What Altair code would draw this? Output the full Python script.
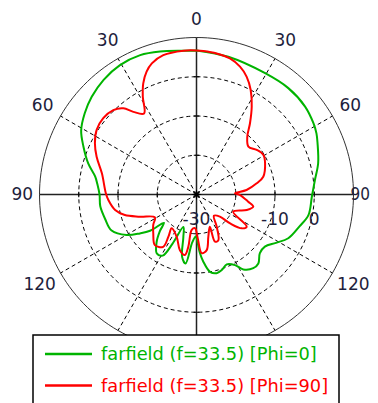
import altair as alt
import pandas as pd
import numpy as np

# ---------------- data (angle: degrees clockwise from top, value: dB) -------------
green_angle = [0, 13, 29.5, 40.8, 51, 58.6, 63, 67, 75.6, 83, 91, 100.4, 107, 115.5,
               121.3, 127.3, 132.8, 138.1, 142.4, 148, 151.4, 156.6, 161.5, 165.6,
               170.1, 174.2, 176.6, 178.5, 181, 185, 189, 193, 197, 202, 206, 209,
               214, 220, 225, 229, 232, 235.5, 239.9, 247, 255, 263, 270, 276, 280,
               286, 293, 299, 306, 313, 321, 329.4, 338, 345.7, 354.8, 360]
green_db = [6.7, 6.0, 5.5, 5.8, 5.6, 4.9, 4.3, 3.5, 2.0, 0.4, -0.6, -1.0, -2.5, -4.1,
            -6.3, -8.1, -8.0, -6.4, -6.3, -7.5, -9.5, -10.6, -9.7, -9.3,
            -10.0, -12.8, -15.0, -17.5, -19.3, -17.8, -12.2, -13.7, -18.5, -21.1, -16.0, -12.2,
            -11.9, -14.2, -16.8, -19.0, -15.0, -12.5, -9.4, -6.5, -5.9, -5.3, -5.3, -4.6, -3.8,
            -1.3, 1.3, 3.6, 5.2, 6.5, 7.6, 8.3, 8.3, 7.6, 6.8, 6.7]

red_angle = [0, 2.7, 8.1, 13.8, 18.8, 23.1, 27.4, 32.2, 36.9, 41.3, 47.3, 53.5, 59.4,
             65.5, 75.1, 79.5, 84.9, 88.2, 90.7, 97.9, 102.1, 107.2, 115, 122.7, 126.8,
             130.7, 133.4, 140.7, 147.9, 154.4, 158.6, 157.5, 164.4, 169.6, 174.9, 178.5,
             182.5, 187.7, 188.9, 190.8, 196.6, 205.1, 216.3, 213.7, 212.5, 219.4, 228.1,
             234.8, 241.2, 248.6, 254, 259.2, 266.4, 270.8, 282.6, 290.7, 296.8, 302.9,
             309.3, 315.4, 319.7, 322.6, 327.1, 331.2, 334.4, 337.9, 341.2, 346.6, 354.8, 360]
red_db = [6.7, 6.6, 6.3, 5.7, 4.4, 2.6, 0.0, -3.6, -7.3, -10.4, -12.0, -10.9, -10.2,
          -10.8, -12.4, -14.4, -17.2, -20.2, -18.9, -16.7, -15.2, -16.6, -19.7, -14.8, -15.6,
          -18.7, -21.8, -23.0, -20.3, -17.1, -17.1, -21.1, -18.8, -15.6, -15.0, -19.0,
          -21.4, -20.9, -16.5, -14.3, -15.2, -18.1, -19.3, -17.1, -14.2, -13.3, -15.2,
          -16.5, -17.9, -14.5, -11.0, -8.9, -7.5, -6.9, -5.3, -2.8, -1.0, 0.3,
          0.7, 0.2, -1.2, -3.5, -5.4, -1.6, 1.4, 3.8, 5.3, 6.5, 6.8, 6.7]

series_names = ["farfield (f=33.5) [Phi=0]", "farfield (f=33.5) [Phi=90]"]
series_colors = ["#00b400", "#ff0000"]

ring_db = [-20, -10, 0]          # dashed rings
outer_db = 10                    # outer solid ring
center_db = -30                  # value at the centre
spoke_angles = [30, 60, 120, 150, 210, 240, 300, 330]
axis_angles = [0, 90]
angle_label_vals = [0, 30, 60, 90, 120]
db_label_vals = [-30, -10, 0]

# ---------------- layout ----------------
W, H = 362, 395
PX = 3.925                     # pixels per dB
CX, CY = 188.5, 186.5          # centre inside the plot area (pixels)
xdom = [-CX / PX, (W - CX) / PX]
ydom = [-(H - CY) / PX, CY / PX]
XS = alt.Scale(domain=xdom, nice=False, zero=False)
YS = alt.Scale(domain=ydom, nice=False, zero=False)
TXT = "#1e1e3c"
FONT = "DejaVu Sans"
NARROW = "Liberation Sans Narrow, DejaVu Sans Condensed, Liberation Sans, Arial"
SPAN = outer_db - center_db


def X(f="x"):
    return alt.X(f + ":Q", scale=XS, axis=None)


def Y(f="y"):
    return alt.Y(f + ":Q", scale=YS, axis=None)


def polar(ch, rexpr="datum.db - (%d)" % center_db):
    return ch.transform_calculate(rr=rexpr).transform_calculate(
        x="datum.rr*sin(datum.angle*PI/180)", y="datum.rr*cos(datum.angle*PI/180)")


# curves
rows = []
for name, angs, dbs in [(series_names[0], green_angle, green_db),
                        (series_names[1], red_angle, red_db)]:
    for i, (a, d) in enumerate(zip(angs, dbs)):
        rows.append(dict(series=name, i=i, angle=a, db=d))
curve_df = pd.DataFrame(rows)

# rings
ring_rows = []
for rd in ring_db + [outer_db]:
    for a in range(0, 362, 2):
        ring_rows.append(dict(ring=rd, angle=a, db=rd, solid=int(rd == outer_db)))
ring_df = pd.DataFrame(ring_rows)

dashed_rings = polar(alt.Chart(ring_df).transform_filter("datum.solid == 0")).mark_line(
    color="#000000", strokeWidth=1, strokeDash=[4, 3]).encode(
    X(), Y(), detail="ring:N", order="angle:Q")
outer_ring = polar(alt.Chart(ring_df).transform_filter("datum.solid == 1")).mark_line(
    color="#333333", strokeWidth=1).encode(X(), Y(), detail="ring:N", order="angle:Q")

spoke_df = pd.DataFrame({"angle": spoke_angles})
spokes = alt.Chart(spoke_df).transform_calculate(
    x="0", y="0",
    x2="%d*sin(datum.angle*PI/180)" % SPAN, y2="%d*cos(datum.angle*PI/180)" % SPAN
).mark_rule(color="#000000", strokeWidth=1, strokeDash=[4, 3]).encode(
    X(), Y(), x2="x2:Q", y2="y2:Q")

axis_df = pd.DataFrame({"angle": axis_angles})
axes = alt.Chart(axis_df).transform_calculate(
    x="%d*sin(datum.angle*PI/180)" % SPAN, y="%d*cos(datum.angle*PI/180)" % SPAN,
    x2="-%d*sin(datum.angle*PI/180)" % SPAN, y2="-%d*cos(datum.angle*PI/180)" % SPAN
).mark_rule(color="#222222", strokeWidth=1.5).encode(X(), Y(), x2="x2:Q", y2="y2:Q")

# small ticks on the axes
tick_rows = []
for rd in ring_db:
    for a in [0, 90, 180, 270]:
        tick_rows.append(dict(angle=a, db=rd, vert=int(a in (90, 270))))
tick_df = pd.DataFrame(tick_rows)
vticks = polar(alt.Chart(tick_df).transform_filter("datum.vert == 1")).mark_point(
    shape="M0,-1V1", size=30, filled=False, color="#000000", strokeWidth=1, opacity=1).encode(X(), Y())
hticks = polar(alt.Chart(tick_df).transform_filter("datum.vert == 0")).mark_point(
    shape="M-1,0H1", size=30, filled=False, color="#000000", strokeWidth=1, opacity=1).encode(X(), Y())

center_star = alt.Chart(pd.DataFrame({"angle": [0], "db": [center_db]}))
center_star = polar(center_star).mark_point(
    shape="M-1,0H1M0,-1V1M-0.7,-0.7L0.7,0.7M-0.7,0.7L0.7,-0.7", size=90, filled=False,
    color="#000000", strokeWidth=1, opacity=1).encode(X(), Y())

curves = polar(alt.Chart(curve_df)).mark_line(strokeWidth=2, interpolate="catmull-rom").encode(
    X(), Y(),
    color=alt.Color("series:N", scale=alt.Scale(domain=series_names, range=series_colors), legend=None),
    order="i:Q")

# angle labels
lab_rows = []
for a in angle_label_vals:
    for ang in sorted({a, (360 - a) % 360}):
        lab_rows.append(dict(angle=ang, label=str(a)))
lab_df = pd.DataFrame(lab_rows)
lab_base = alt.Chart(lab_df).transform_calculate(
    s="abs(sin(datum.angle*PI/180))", c="abs(cos(datum.angle*PI/180))"
).transform_calculate(
    rr="44.4 + 2*datum.s*datum.c + 1.0*(length(datum.label)-2)*datum.s"
).transform_calculate(
    x="datum.rr*sin(datum.angle*PI/180)", y="datum.rr*cos(datum.angle*PI/180)"
)
angle_labels = lab_base.transform_filter("datum.angle != 90").mark_text(
    font=FONT, fontSize=17, color=TXT, align="center", baseline="middle").encode(
    X(), Y(), text="label:N")
# the right-hand "90" sits on the very edge of the picture: right-align it to the edge
right_label = lab_base.transform_filter("datum.angle == 90").mark_text(
    font=NARROW, fontSize=17, color=TXT, align="right", baseline="middle").encode(
    x=alt.value(W), y=Y(), text="label:N")

dbl_df = pd.DataFrame({"db": db_label_vals, "label": [str(v) for v in db_label_vals]})
db_labels = alt.Chart(dbl_df).transform_calculate(
    x="datum.db - (%d)" % center_db, y="0"
).mark_text(font=FONT, fontSize=17, color=TXT, align="center", baseline="middle", dy=25).encode(
    X(), Y(), text="label:N")

# legend box
leg_df = pd.DataFrame({"series": series_names, "color": series_colors})
legend_box = alt.Chart(leg_df.head(1)).mark_rect(
    fill="white", stroke="#000000", strokeWidth=1.5).encode(
    x=alt.value(25), x2=alt.value(331), y=alt.value(327), y2=alt.value(440))

legend_layers = []
for k, (name, col) in enumerate(zip(series_names, series_colors)):
    ly = 346 + k * 31.5
    sub = alt.Chart(leg_df).transform_filter(alt.datum.series == name)
    legend_layers.append(sub.mark_rule(color=col, strokeWidth=2.5).encode(
        x=alt.value(37), x2=alt.value(84), y=alt.value(ly)))
    legend_layers.append(sub.mark_text(font=FONT, fontSize=17.8, color=col, align="left",
                                       baseline="middle").encode(
        x=alt.value(93), y=alt.value(ly + 1), text="series:N"))

chart = alt.layer(
    dashed_rings, spokes, outer_ring, axes, vticks, hticks, center_star,
    curves, angle_labels, right_label, db_labels, legend_box, *legend_layers
).properties(
    width=W, height=H, padding=0, autosize=alt.AutoSizeParams(type="none")
).configure_view(stroke="transparent")

chart.save("out.html", embed_options={"renderer": "svg", "actions": False})
